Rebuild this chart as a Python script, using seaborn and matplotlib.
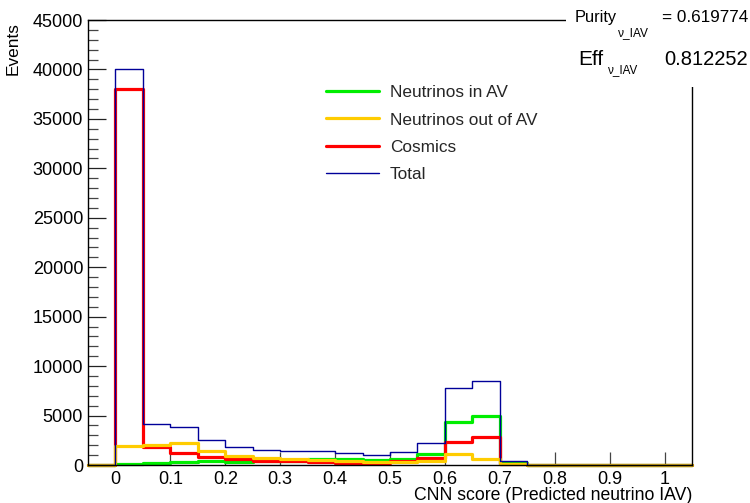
import numpy as np
import pandas as pd
import matplotlib
matplotlib.use("Agg")
import matplotlib.pyplot as plt
import seaborn as sns
from matplotlib.patches import Rectangle
from matplotlib.ticker import MultipleLocator, FixedLocator, FixedFormatter

# ---------------- data ----------------
bin_edges = [-0.05, 0.0, 0.05, 0.1, 0.15, 0.2, 0.25, 0.3, 0.35, 0.4, 0.45, 0.5,
             0.55, 0.6, 0.65, 0.7, 0.75, 0.8, 0.85, 0.9, 0.95, 1.0, 1.05]
bin_centers = [-0.025, 0.025, 0.075, 0.125, 0.175, 0.225, 0.275, 0.325, 0.375,
               0.425, 0.475, 0.525, 0.575, 0.625, 0.675, 0.725, 0.775, 0.825,
               0.875, 0.925, 0.975, 1.025]
nu_in_av = [0, 100, 200, 350, 420, 350, 380, 420, 655, 590, 525, 655, 1130,
            4390, 5000, 230, 0, 0, 0, 0, 0, 0]
nu_out_av = [0, 1900, 2070, 2200, 1400, 940, 725, 625, 525, 420, 320, 320, 385,
             1130, 625, 95, 0, 0, 0, 0, 0, 0]
cosmics = [0, 38000, 1870, 1260, 790, 590, 455, 420, 285, 250, 215, 355, 725,
           2340, 2850, 130, 0, 0, 0, 0, 0, 0]
total = [0, 40000, 4160, 3890, 2575, 1840, 1565, 1465, 1465, 1230, 1060, 1330,
         2200, 7800, 8460, 455, 0, 0, 0, 0, 0, 0]

x_ticks = [0, 0.1, 0.2, 0.3, 0.4, 0.5, 0.6, 0.7, 0.8, 0.9, 1.0]
x_tick_labels = ["0", "0.1", "0.2", "0.3", "0.4", "0.5", "0.6", "0.7", "0.8", "0.9", "1"]
y_ticks = [0, 5000, 10000, 15000, 20000, 25000, 30000, 35000, 40000, 45000]
y_tick_labels = ["0", "5000", "10000", "15000", "20000", "25000", "30000",
                 "35000", "40000", "45000"]

series = [
    ("Neutrinos in AV", nu_in_av, "#00ee00", 2.3),
    ("Cosmics", cosmics, "#ff0000", 2.3),
    ("Neutrinos out of AV", nu_out_av, "#ffcc00", 2.3),
    ("Total", total, "#000099", 1.0),
]
legend_order = ["Neutrinos in AV", "Neutrinos out of AV", "Cosmics", "Total"]

# ---------------- style ----------------
sns.set_theme(style="ticks")
plt.rcParams["font.family"] = ["Liberation Sans", "DejaVu Sans"]

W, H = 750, 503
fig = plt.figure(figsize=(W / 100, H / 100), dpi=100)
fig.patch.set_facecolor("white")
ax = fig.add_axes([88 / W, 1 - 465 / H, (692 - 88) / W, (465 - 20) / H])
ax.set_facecolor("white")

handles = {}
for name, vals, col, lw in series:
    df = pd.DataFrame({"x": bin_centers, "w": vals})
    n_before = len(ax.lines)
    sns.histplot(data=df, x="x", weights="w", bins=bin_edges, element="step",
                 fill=False, color=col, linewidth=lw, ax=ax)
    line = ax.lines[n_before]
    line.set_label(name)
    line.set_clip_on(False)
    handles[name] = line

ax.set_xlim(-0.05, 1.05)
ax.set_ylim(0, 45000)

ax.xaxis.set_major_locator(FixedLocator(x_ticks))
ax.xaxis.set_major_formatter(FixedFormatter(x_tick_labels))
ax.yaxis.set_major_locator(FixedLocator(y_ticks))
ax.yaxis.set_major_formatter(FixedFormatter(y_tick_labels))
ax.yaxis.set_minor_locator(MultipleLocator(1000))

ax.tick_params(axis="x", which="major", direction="in", length=9.5, width=0.9,
               color="#444444", labelsize=13, pad=4.5, labelcolor="black")
ax.tick_params(axis="y", which="major", direction="in", length=13, width=0.9,
               color="#222222", labelsize=13, pad=3.5, labelcolor="black")
ax.tick_params(axis="y", which="minor", direction="in", length=7, width=0.9,
               color="#444444")

for sp in ax.spines.values():
    sp.set_color("black")
    sp.set_linewidth(1.0)
    sp.set_visible(True)

ax.set_xlabel("CNN score (Predicted neutrino IAV)", loc="right", fontsize=12.7,
              labelpad=-0.6, color="black")
ax.set_ylabel("")
fig.text(13 / W, 1 - 22 / H, "Events", rotation=90, ha="center", va="top",
         fontsize=12.4, color="black")

leg = ax.legend([handles[n] for n in legend_order], legend_order,
                loc="upper left", bbox_to_anchor=(326 / W, 1 - 85 / H),
                bbox_transform=fig.transFigure, frameon=False, fontsize=12.4,
                handlelength=3.1, handletextpad=0.6, labelspacing=0.72,
                borderpad=0, borderaxespad=0)

# stats boxes (white, covering the frame corner)
fig.patches.append(Rectangle((566 / W, 1 - 87 / H), (W - 566) / W, 87 / H,
                             transform=fig.transFigure, facecolor="white",
                             edgecolor="none", zorder=5))
# Purity line
fig.text(575 / W, 1 - 22 / H, "Purity", ha="left", va="baseline",
         fontsize=11.8, color="black", zorder=6)
fig.text(618 / W, 1 - 36 / H, "ν_IAV", ha="left", va="baseline",
         fontsize=8.6, color="black", zorder=6)
fig.text(748 / W, 1 - 22 / H, "= 0.619774", ha="right", va="baseline",
         fontsize=12.3, color="black", zorder=6)
# Efficiency line
fig.text(578 / W, 1 - 65.5 / H, "Eff", ha="left", va="baseline",
         fontsize=15, color="black", zorder=6)
fig.text(608 / W, 1 - 73 / H, "ν_IAV", ha="left", va="baseline",
         fontsize=8.4, color="black", zorder=6)
fig.text(748 / W, 1 - 65.5 / H, "0.812252", ha="right", va="baseline",
         fontsize=14.5, color="black", zorder=6)

fig.savefig("out.png", dpi=100, facecolor="white")
